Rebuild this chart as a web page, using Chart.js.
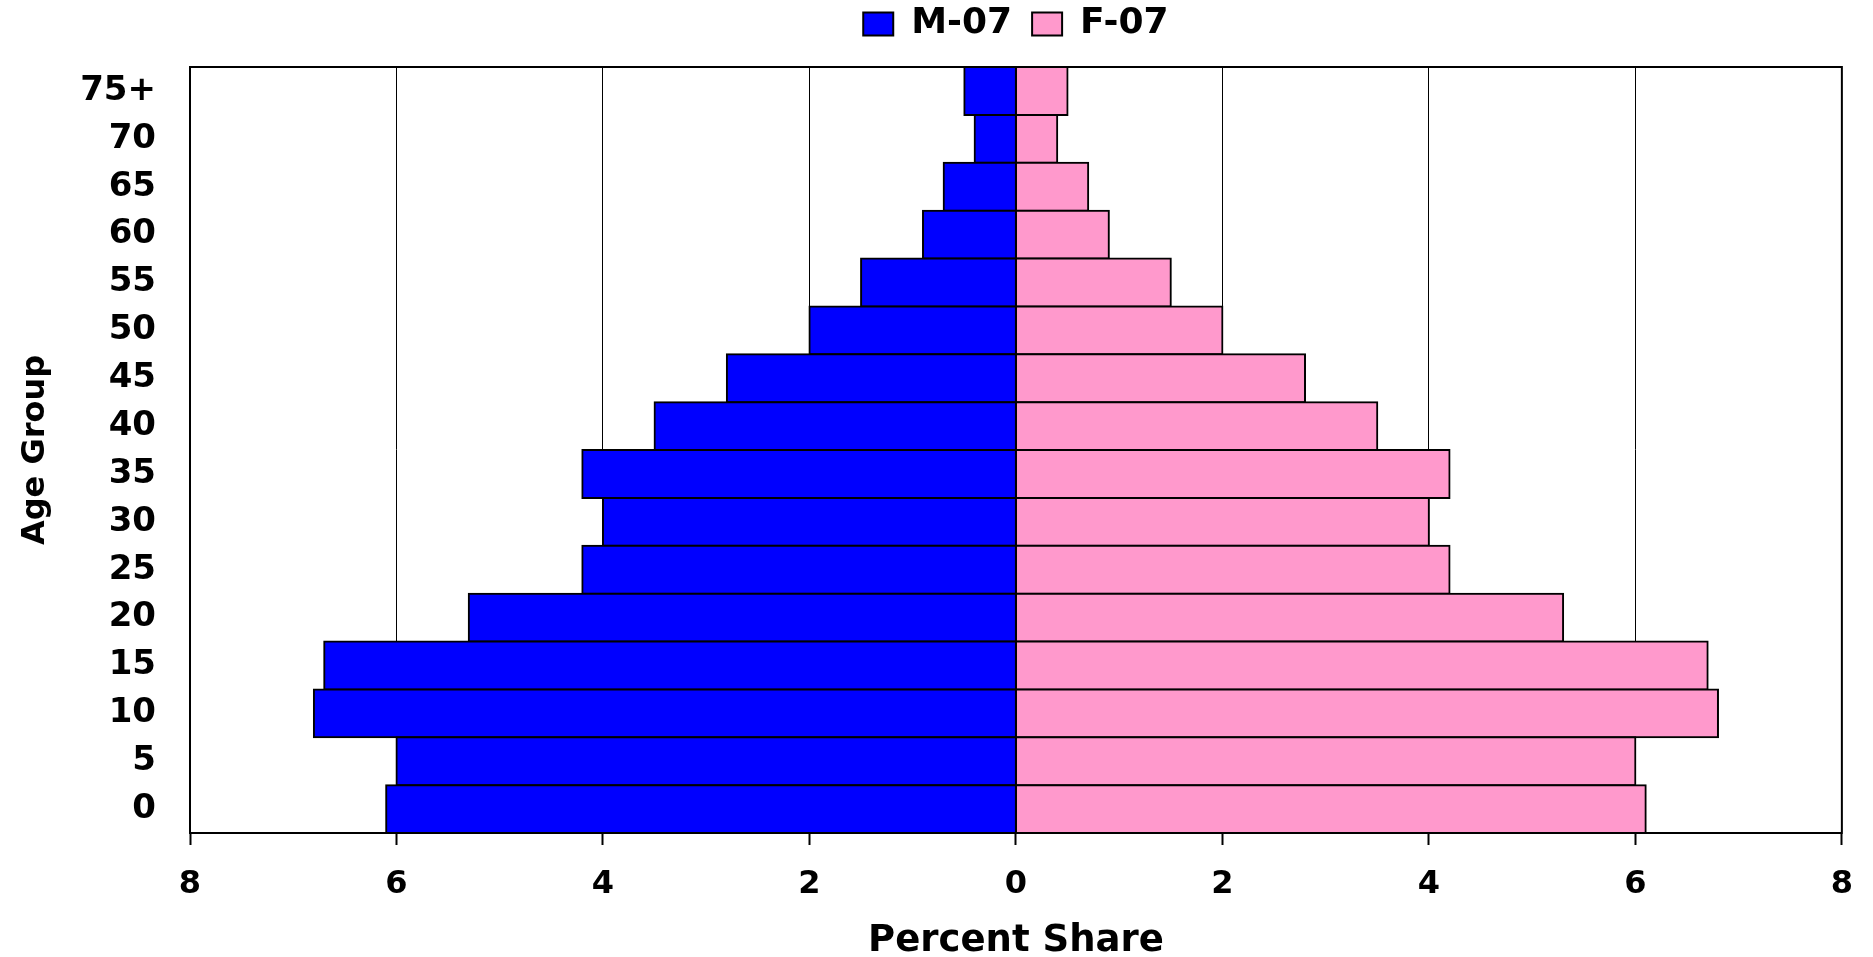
<!DOCTYPE html>
<html>
<head>
<meta charset="utf-8">
<script src="https://cdn.jsdelivr.net/npm/chart.js@4/dist/chart.umd.min.js"></script>
<style>
html,body{margin:0;padding:0;background:#fff;}
#wrap{width:1873px;height:957px;position:relative;}
</style>
</head>
<body>
<div id="wrap"><canvas id="c" width="1873" height="957"></canvas></div>
<script>
// Age groups, top to bottom
const ageGroups = ['75+','70','65','60','55','50','45','40','35','30','25','20','15','10','5','0'];
// Percent share by age group (same order)
const male07 = [0.5,0.4,0.7,0.9,1.5,2.0,2.8,3.5,4.2,4.0,4.2,5.3,6.7,6.8,6.0,6.1];
const female07 = [0.5,0.4,0.7,0.9,1.5,2.0,2.8,3.5,4.2,4.0,4.2,5.3,6.7,6.8,6.0,6.1];
const seriesNames = ['M-07','F-07'];
const xMin = -8, xMax = 8, xStep = 2;

const FONT = "'DejaVu Sans', 'Liberation Sans', Arial, sans-serif";

const frame = {
  id: 'frame',
  afterDatasetsDraw(chart) {
    const a = chart.chartArea, ctx = chart.ctx;
    ctx.save();
    ctx.strokeStyle = '#000';
    ctx.lineWidth = 2;
    ctx.strokeRect(a.left, a.top, a.right - a.left, a.bottom - a.top);
    ctx.restore();
  }
};

new Chart(document.getElementById('c'), {
  type: 'bar',
  data: {
    labels: ageGroups,
    datasets: [
      { label: seriesNames[0], data: male07.map(v => -v), backgroundColor: '#0000FF', borderColor: '#000', borderWidth: 2, inflateAmount: 1, borderSkipped: false },
      { label: seriesNames[1], data: female07, backgroundColor: '#FF99CC', borderColor: '#000', borderWidth: 2, inflateAmount: 1, borderSkipped: false }
    ]
  },
  options: {
    indexAxis: 'y',
    responsive: false,
    animation: false,
    maintainAspectRatio: false,
    layout: { padding: { top: -14, left: 0, right: 30, bottom: 0 } },
    datasets: { bar: { categoryPercentage: 1.0, barPercentage: 1.0 } },
    plugins: {
      legend: {
        position: 'top',
        fullSize: false,
        labels: {
          color: '#000',
          font: { family: FONT, size: 36, weight: 'bold' },
          boxWidth: 30, boxHeight: 23, padding: 20
        }
      },
      tooltip: { enabled: false }
    },
    scales: {
      xTop: {
        type: 'linear',
        position: 'top',
        display: true,
        ticks: { display: false },
        grid: { display: false, drawTicks: false },
        border: { display: false },
        afterFit: s => { s.height = 15; }
      },
      x: {
        stacked: true,
        min: xMin, max: xMax,
        ticks: {
          stepSize: xStep,
          color: '#000',
          padding: 20,
          font: { family: FONT, size: 32, weight: 'bold' },
          callback: v => Math.abs(v)
        },
        grid: { color: '#000', lineWidth: 1, tickLength: 12, tickColor: '#000', tickWidth: 2 },
        border: { color: '#000', width: 2 },
        title: {
          display: true, text: 'Percent Share', color: '#000',
          font: { family: FONT, size: 37, weight: 'bold', lineHeight: 0.85 },
          padding: { top: 0, bottom: 0 }
        },
        afterFit: s => { s.height = 124; }
      },
      y: {
        stacked: true,
        offset: true,
        ticks: {
          color: '#000',
          padding: 34,
          font: { family: FONT, size: 34, weight: 'bold' }
        },
        grid: { display: false, drawTicks: false },
        border: { color: '#000', width: 2 },
        title: {
          display: true, text: 'Age Group', color: '#000',
          font: { family: FONT, size: 32, weight: 'bold', lineHeight: 1.0 },
          padding: { top: 20, bottom: 0 }
        },
        afterFit: s => { s.width = 190; }
      }
    }
  },
  plugins: [frame]
});
</script>
</body>
</html>
